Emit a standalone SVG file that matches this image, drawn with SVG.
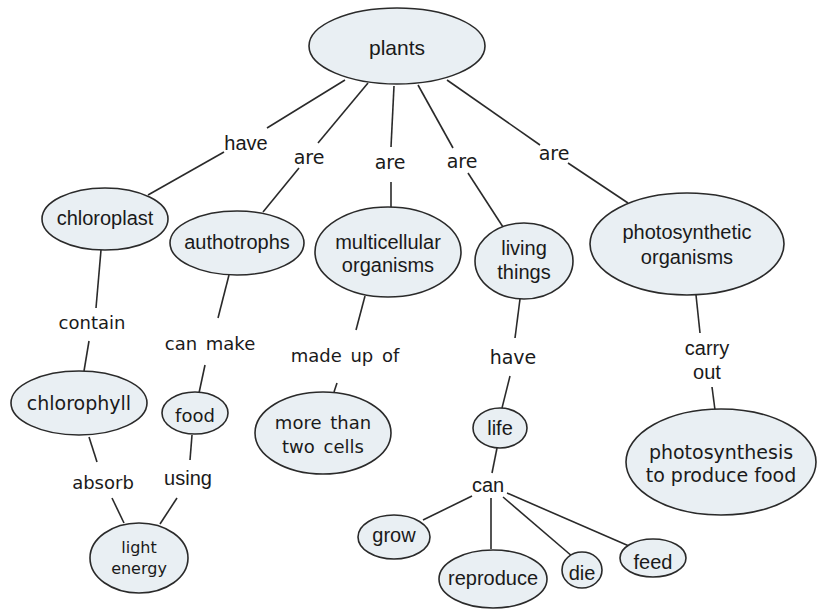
<svg xmlns="http://www.w3.org/2000/svg" width="817" height="610" viewBox="0 0 817 610">
<style>
.n{fill:#e9eff3;stroke:#2a2a2a;stroke-width:1.6}
.c line{stroke:#2a2a2a;stroke-width:1.6}
text{fill:#1a1a1a;text-anchor:middle;dominant-baseline:central}
.a{font-family:"Liberation Sans",Arial,sans-serif;font-size:20px}
.v{font-family:"DejaVu Sans",Verdana,sans-serif;font-size:18px;word-spacing:3px}
</style>
<rect width="817" height="610" fill="#ffffff"/>
<g class="c">
<line x1="345" y1="80" x2="267" y2="128"/>
<line x1="224" y1="152" x2="148" y2="195"/>
<line x1="368" y1="83" x2="318" y2="143"/>
<line x1="299" y1="168" x2="263" y2="212"/>
<line x1="394" y1="86" x2="391" y2="147"/>
<line x1="391" y1="182" x2="391" y2="208"/>
<line x1="418" y1="85" x2="453" y2="148"/>
<line x1="468" y1="173" x2="503" y2="227"/>
<line x1="447" y1="80" x2="540" y2="145"/>
<line x1="568" y1="163" x2="628" y2="203"/>
<line x1="101" y1="250" x2="96" y2="308"/>
<line x1="89" y1="341" x2="84" y2="371"/>
<line x1="229" y1="275" x2="218" y2="318"/>
<line x1="205" y1="365" x2="199" y2="393"/>
<line x1="365" y1="296" x2="356" y2="330"/>
<line x1="337" y1="383" x2="334" y2="392"/>
<line x1="89" y1="437" x2="97" y2="462"/>
<line x1="192" y1="435" x2="190" y2="460"/>
<line x1="112" y1="498" x2="124" y2="523"/>
<line x1="177" y1="498" x2="160" y2="524"/>
<line x1="520" y1="299" x2="515" y2="338"/>
<line x1="510" y1="376" x2="502" y2="408"/>
<line x1="497" y1="448" x2="492" y2="473"/>
<line x1="472" y1="496" x2="423" y2="520"/>
<line x1="491" y1="498" x2="491" y2="549"/>
<line x1="503" y1="497" x2="573" y2="557"/>
<line x1="507" y1="493" x2="629" y2="546"/>
<line x1="696" y1="295" x2="700" y2="333"/>
<line x1="712" y1="387" x2="715" y2="410"/>
</g>
<g id="labels">
<text class="a" x="246" y="143">have</text>
<text class="v" x="309" y="157" style="font-size:19px">are</text>
<text class="v" x="390" y="162" style="font-size:19px">are</text>
<text class="v" x="462" y="161" style="font-size:19px">are</text>
<text class="v" x="554" y="153" style="font-size:19px">are</text>
<text class="v" x="92" y="322">contain</text>
<text class="v" x="210" y="343">can make</text>
<text class="v" x="345" y="355">made up of</text>
<text class="v" x="103" y="482">absorb</text>
<text class="a" x="188" y="478">using</text>
<text class="v" x="513" y="357" style="font-size:19px">have</text>
<text class="a" x="488" y="485">can</text>
<text class="a" x="707" y="348">carry</text>
<text class="a" x="707" y="372">out</text>
</g>
<g id="plants"><ellipse class="n" cx="397" cy="46" rx="88" ry="38"/><text class="a" x="397" y="47" style="font-size:21px">plants</text></g>
<g id="chloroplast"><ellipse class="n" cx="105" cy="219" rx="63" ry="31"/><text class="a" x="105" y="218">chloroplast</text></g>
<g id="authotrophs"><ellipse class="n" cx="237" cy="243" rx="67" ry="32"/><text class="a" x="237" y="242">authotrophs</text></g>
<g id="multicellular"><ellipse class="n" cx="388" cy="252" rx="73" ry="45"/><text class="a" x="388" y="242">multicellular</text><text class="a" x="388" y="265">organisms</text></g>
<g id="living"><ellipse class="n" cx="524" cy="261" rx="49" ry="38"/><text class="a" x="524" y="248">living</text><text class="a" x="524" y="272">things</text></g>
<g id="photosynthetic"><ellipse class="n" cx="687" cy="244" rx="97" ry="51"/><text class="a" x="687" y="232">photosynthetic</text><text class="a" x="687" y="257">organisms</text></g>
<g id="chlorophyll"><ellipse class="n" cx="79" cy="403" rx="68" ry="32"/><text class="v" x="79" y="403" style="font-size:19px">chlorophyll</text></g>
<g id="food"><ellipse class="n" cx="195" cy="413" rx="33" ry="21"/><text class="v" x="195" y="415">food</text></g>
<g id="cells"><ellipse class="n" cx="323" cy="433" rx="68" ry="41"/><text class="v" x="323" y="422">more than</text><text class="v" x="323" y="446">two cells</text></g>
<g id="light"><ellipse class="n" cx="139" cy="558" rx="49" ry="35"/><text class="v" x="139" y="547" style="font-size:16px">light</text><text class="v" x="139" y="568" style="font-size:16px">energy</text></g>
<g id="life"><ellipse class="n" cx="500" cy="428" rx="27" ry="20"/><text class="a" x="500" y="428">life</text></g>
<g id="grow"><ellipse class="n" cx="394" cy="537" rx="36" ry="22"/><text class="a" x="394" y="535">grow</text></g>
<g id="reproduce"><ellipse class="n" cx="493" cy="579" rx="54" ry="29"/><text class="a" x="493" y="578">reproduce</text></g>
<g id="die"><ellipse class="n" cx="582" cy="570" rx="20" ry="18"/><text class="a" x="582" y="573">die</text></g>
<g id="feed"><ellipse class="n" cx="653" cy="558" rx="33" ry="19"/><text class="a" x="653" y="562">feed</text></g>
<g id="photosynthesis"><ellipse class="n" cx="721" cy="462" rx="95" ry="53"/><text class="v" x="721" y="452" style="font-size:19px;word-spacing:0">photosynthesis</text><text class="v" x="721" y="475" style="font-size:19px;word-spacing:0">to produce food</text></g>
</svg>
